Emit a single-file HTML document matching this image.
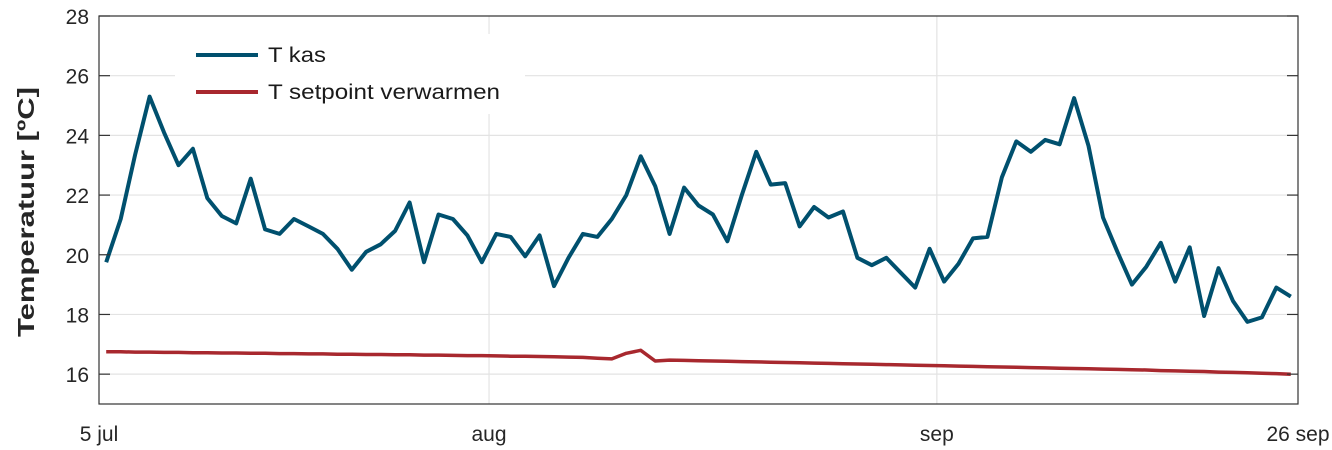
<!DOCTYPE html>
<html><head><meta charset="utf-8"><style>
body{margin:0;background:#fff;}
svg{display:block;font-family:"Liberation Sans",sans-serif;}
</style></head><body>
<svg id="chart" width="1332" height="450">
<rect x="0" y="0" width="1332" height="450" fill="#fff"/>
<g id="grid"></g>
<g id="series"></g>
<g id="axes"></g>
<text x="34" y="212" transform="rotate(-90 34 212)" text-anchor="middle" font-size="23" font-weight="bold" fill="#262626" textLength="250" lengthAdjust="spacingAndGlyphs">Temperatuur [ºC]</text>
<g>
<rect x="175" y="34" width="350" height="80" fill="#fff"/>
<line x1="196" y1="55" x2="258" y2="55" stroke="#00506e" stroke-width="4"/>
<text x="268" y="62" font-size="21" fill="#1a1a1a" textLength="58" lengthAdjust="spacingAndGlyphs">T kas</text>
<line x1="196" y1="92" x2="258" y2="92" stroke="#a8282e" stroke-width="4"/>
<text x="268" y="99" font-size="21" fill="#1a1a1a" textLength="232" lengthAdjust="spacingAndGlyphs">T setpoint verwarmen</text>
</g>
</svg>
<script>
const yTicks=[16,18,20,22,24,26,28];
const xTickDays=[0,27,58,83];
const xTickLabels=["5 jul","aug","sep","26 sep"];
const tKas=[19.75,21.2,23.35,25.3,24.1,23.0,23.55,21.9,21.3,21.05,22.55,20.85,20.7,21.2,20.95,20.7,20.2,19.5,20.1,20.35,20.8,21.75,19.75,21.35,21.2,20.65,19.75,20.7,20.6,19.95,20.65,18.95,19.9,20.7,20.6,21.2,22.0,23.3,22.3,20.7,22.25,21.65,21.35,20.45,22.0,23.45,22.35,22.4,20.95,21.6,21.25,21.45,19.9,19.65,19.9,19.4,18.9,20.2,19.1,19.7,20.55,20.6,22.6,23.8,23.45,23.85,23.7,25.25,23.65,21.25,20.1,19.0,19.6,20.4,19.1,20.25,17.95,19.55,18.45,17.75,17.9,18.9,18.6];
const tSet=[16.75,16.75,16.74,16.74,16.73,16.73,16.72,16.72,16.71,16.71,16.70,16.70,16.69,16.69,16.68,16.68,16.67,16.67,16.66,16.66,16.65,16.65,16.64,16.64,16.63,16.62,16.62,16.61,16.60,16.60,16.59,16.58,16.57,16.56,16.53,16.51,16.7,16.8,16.44,16.47,16.46,16.45,16.44,16.43,16.42,16.41,16.40,16.39,16.38,16.37,16.36,16.35,16.34,16.33,16.32,16.31,16.30,16.29,16.28,16.27,16.26,16.25,16.24,16.23,16.22,16.21,16.20,16.19,16.18,16.17,16.16,16.15,16.14,16.12,16.11,16.10,16.09,16.07,16.06,16.05,16.03,16.02,16.00];
const X0=99,X1=1298,Y0=404,Y1=16,DMAX=83,TMIN=15,TMAX=28;
const xs=d=>X0+(d/DMAX)*(X1-X0);
const ys=v=>Y0-(v-TMIN)/(TMAX-TMIN)*(Y0-Y1);
const NS="http://www.w3.org/2000/svg";
function mk(tag,attrs,parent){const e=document.createElementNS(NS,tag);for(const k in attrs)e.setAttribute(k,attrs[k]);parent.appendChild(e);return e;}
const grid=document.getElementById('grid'),axes=document.getElementById('axes'),series=document.getElementById('series');
yTicks.forEach(t=>{
 const g=mk('line',{x1:X0,x2:X1,y1:ys(t),y2:ys(t),stroke:'#e3e3e3','stroke-width':1.2},grid);
 
 
 const a=mk('line',{x1:X0,x2:X0+11,y1:ys(t),y2:ys(t),stroke:'#333','stroke-width':1.2},axes);
 
 
 const b=mk('line',{x1:X1-11,x2:X1,y1:ys(t),y2:ys(t),stroke:'#333','stroke-width':1.2},axes);
 
 
 const l=mk('text',{x:X0-10,y:ys(t)+8,'text-anchor':'end','font-size':21,fill:'#262626'},axes);
 l.textContent=t;
 
 
});
xTickDays.forEach((d,i)=>{
 if(i>0&&i<xTickDays.length-1){
  const g=mk('line',{x1:xs(d),x2:xs(d),y1:Y1,y2:Y0,stroke:'#e3e3e3','stroke-width':1.2},grid);
  
  
 }
 const l=mk('text',{x:xs(d),y:441,'text-anchor':'middle','font-size':21,fill:'#262626'},axes);
 l.textContent=xTickLabels[i];
 
 
});
const box=mk('rect',{x:X0,y:Y1,width:X1-X0,height:Y0-Y1,fill:'none',stroke:'#333','stroke-width':1.2},axes);


function pts(arr){return arr.map((v,i)=>xs(i+0.5).toFixed(1)+','+ys(v).toFixed(1)).join(' ');}
const red=mk('polyline',{points:pts(tSet),fill:'none',stroke:'#a8282e','stroke-width':3.5,'stroke-linejoin':'round'},series);


const blue=mk('polyline',{points:pts(tKas),fill:'none',stroke:'#00506e','stroke-width':4,'stroke-linejoin':'round'},series);


</script>
</body></html>
